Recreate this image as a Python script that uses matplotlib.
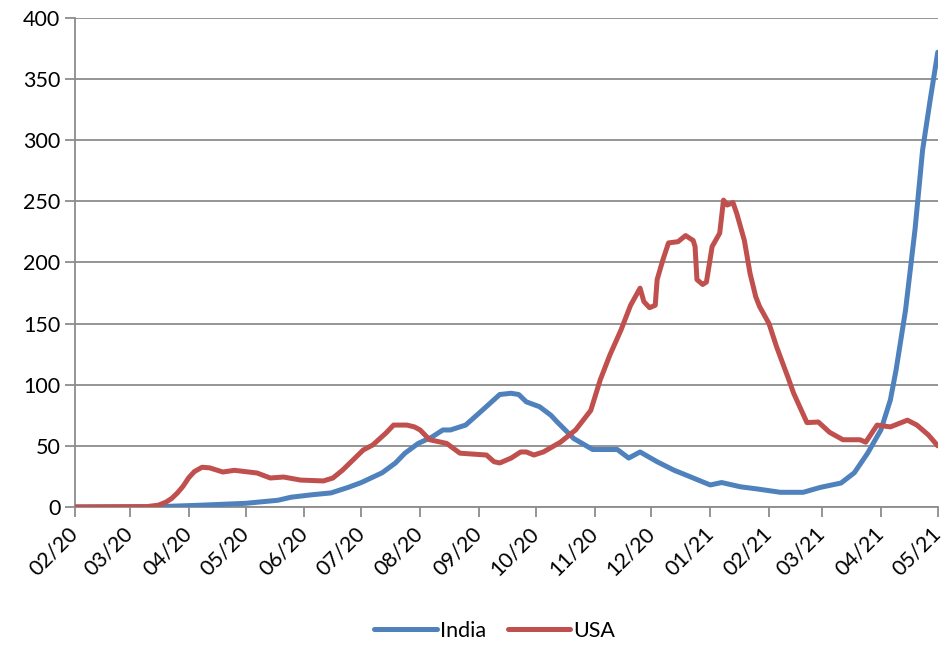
import pandas as pd
import matplotlib.pyplot as plt
import matplotlib.dates as mdates

# 7-day average of daily new cases (thousands)
usa_dates = ["2020-02-01", "2020-03-10", "2020-03-16", "2020-03-20", "2020-03-23", "2020-03-26",
             "2020-03-29", "2020-04-01", "2020-04-04", "2020-04-08", "2020-04-12", "2020-04-19",
             "2020-04-25", "2020-05-07", "2020-05-14", "2020-05-21", "2020-05-30", "2020-06-11",
             "2020-06-16", "2020-06-21", "2020-07-02", "2020-07-07", "2020-07-14", "2020-07-18",
             "2020-07-25", "2020-07-29", "2020-08-01", "2020-08-06", "2020-08-15", "2020-08-22",
             "2020-09-05", "2020-09-09", "2020-09-12", "2020-09-18", "2020-09-23", "2020-09-26",
             "2020-09-30", "2020-10-05", "2020-10-14", "2020-10-22", "2020-10-30", "2020-11-04",
             "2020-11-09", "2020-11-15", "2020-11-20", "2020-11-25", "2020-11-27", "2020-11-30",
             "2020-12-03", "2020-12-04", "2020-12-07", "2020-12-10", "2020-12-15", "2020-12-19",
             "2020-12-23", "2020-12-24", "2020-12-25", "2020-12-28", "2020-12-30", "2021-01-02",
             "2021-01-06", "2021-01-08", "2021-01-10", "2021-01-13", "2021-01-15", "2021-01-19",
             "2021-01-22", "2021-01-25", "2021-01-27", "2021-02-01", "2021-02-05", "2021-02-11",
             "2021-02-14", "2021-02-21", "2021-02-27", "2021-03-05", "2021-03-12", "2021-03-21",
             "2021-03-24", "2021-03-30", "2021-04-06", "2021-04-15", "2021-04-20", "2021-04-26",
             "2021-05-01"]
usa_cases = [0, 0.3, 1.5, 4, 7, 11.5,
             17, 24, 29, 32.5, 32, 28.6,
             30, 27.8, 23.7, 24.5, 22, 21.3,
             23.7, 30, 46.6, 50.7, 60.5, 67,
             67, 65.5, 63, 55, 52, 44,
             42.5, 37, 36, 40, 45, 45,
             42.5, 45, 53, 63, 79, 104,
             124, 145, 165, 179, 168, 163,
             165, 186, 202, 216, 217, 222,
             218, 213, 186, 182, 184, 213,
             224, 251, 247, 249, 240, 218,
             191, 172, 164, 150, 131, 106,
             93, 69, 69.5, 61, 55, 55,
             53, 67, 65.5, 71, 67, 59,
             50]

india_dates = ["2020-02-01", "2020-03-15", "2020-04-08", "2020-05-01", "2020-05-18", "2020-05-25",
               "2020-06-05", "2020-06-15", "2020-06-24", "2020-07-01", "2020-07-12", "2020-07-19",
               "2020-07-24", "2020-07-31", "2020-08-07", "2020-08-13", "2020-08-17", "2020-08-25",
               "2020-09-02", "2020-09-07", "2020-09-12", "2020-09-18", "2020-09-22", "2020-09-26",
               "2020-10-03", "2020-10-09", "2020-10-12", "2020-10-21", "2020-10-31", "2020-11-13",
               "2020-11-19", "2020-11-25", "2020-12-04", "2020-12-13", "2020-12-21", "2021-01-01",
               "2021-01-07", "2021-01-17", "2021-01-26", "2021-02-07", "2021-02-19", "2021-02-28",
               "2021-03-11", "2021-03-18", "2021-03-25", "2021-04-01", "2021-04-06", "2021-04-09",
               "2021-04-14", "2021-04-19", "2021-04-23", "2021-04-27", "2021-05-01"]
india_cases = [0, 0.2, 1.5, 3, 5.5, 8,
               10, 11.5, 16, 20, 28, 36,
               44, 52, 57, 63, 63, 67,
               78, 85, 92, 93, 92, 86,
               82, 75, 70, 56, 47, 47,
               40, 45, 37, 30, 25, 18,
               20, 16.5, 14.7, 12, 12, 16,
               19.6, 28, 44, 63, 87.5, 112,
               161, 227, 292, 333, 372]

month_ticks = pd.date_range("2020-02-01", "2021-05-01", freq="MS")

plt.rcParams["font.family"] = ["Lato", "DejaVu Sans"]
fig = plt.figure(figsize=(9.46, 6.46), dpi=100)
ax = fig.add_axes([0.0793, 0.2152, 0.912, 0.757])

ax.plot(pd.to_datetime(india_dates), india_cases, color="#4F81BD", lw=3.6,
        solid_capstyle="round", label="India", zorder=3)
ax.plot(pd.to_datetime(usa_dates), usa_cases, color="#C0504D", lw=3.6,
        solid_capstyle="round", label="USA", zorder=3)

ax.set_xlim(month_ticks[0], month_ticks[-1])
ax.set_ylim(0, 400)
ax.set_yticks(range(0, 401, 50))
ax.set_xticks(month_ticks)
ax.xaxis.set_major_formatter(mdates.DateFormatter("%m/%y"))
plt.setp(ax.get_xticklabels(), rotation=45, ha="right", va="center", rotation_mode="anchor")

ax.grid(axis="y", color="#8C8C8C", lw=1.3)
ax.set_axisbelow(True)
for side in ["top", "right"]:
    ax.spines[side].set_visible(False)
for side in ["left", "bottom"]:
    ax.spines[side].set_color("#8C8C8C")
    ax.spines[side].set_linewidth(1.3)
ax.tick_params(axis="both", colors="#8C8C8C", length=7, width=1.3, labelsize=15.5,
               labelcolor="black")
ax.tick_params(axis="x", pad=10)

fig.legend(loc="lower center", bbox_to_anchor=(0.523, -0.022), ncol=2, frameon=False,
           fontsize=15.5, handlelength=2.9, columnspacing=1.0, handletextpad=0.15)

plt.savefig("out.png", dpi=100)
plt.close()
